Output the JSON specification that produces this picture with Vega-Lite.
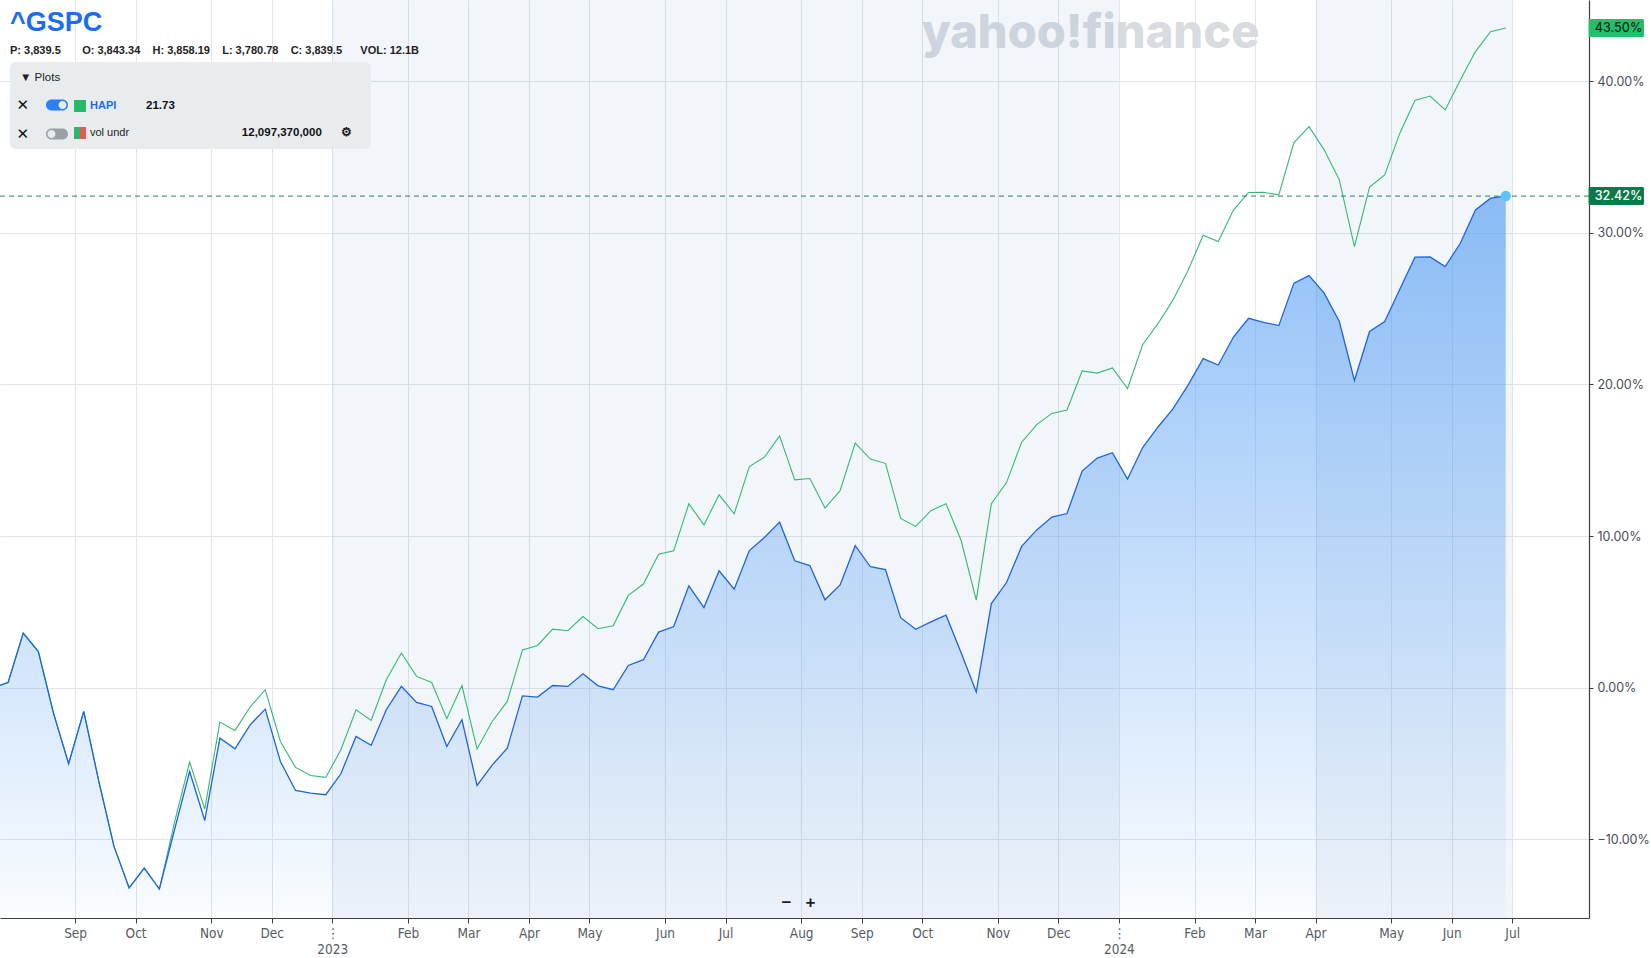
{
  "$schema": "https://vega.github.io/schema/vega-lite/v6.json",
  "width": 1589,
  "height": 918,
  "autosize": {"type": "none"},
  "padding": {"left": 0, "top": 0, "right": 62, "bottom": 40},
  "background": "#ffffff",
  "config": {"view": {"stroke": null}, "font": "Liberation Sans"},
  "title": {
    "text": "^GSPC",
    "subtitle": "P: 3,839.5\u00a0\u00a0\u00a0\u00a0\u00a0\u00a0\u00a0O: 3,843.34\u00a0\u00a0\u00a0\u00a0H: 3,858.19\u00a0\u00a0\u00a0\u00a0L: 3,780.78\u00a0\u00a0\u00a0\u00a0C: 3,839.5\u00a0\u00a0\u00a0\u00a0\u00a0\u00a0VOL: 12.1B",
    "anchor": "start",
    "frame": "group",
    "orient": "top",
    "offset": -57,
    "dx": 10,
    "font": "Liberation Sans",
    "fontSize": 27,
    "fontWeight": "bold",
    "color": "#1b6cf2",
    "subtitleFont": "Liberation Sans",
    "subtitleFontSize": 11,
    "subtitleFontWeight": "bold",
    "subtitleColor": "#222222",
    "subtitlePadding": 8
  },
  "datasets": {
    "shade": [
      {"start": "2023-01-02", "end": "2024-01-01"},
      {"start": "2024-04-01", "end": "2024-07-01"}
    ],
    "last": [
      {"series": "^GSPC", "date": "2024-06-28", "value": 32.42, "label": "32.42%"},
      {"series": "HAPI", "date": "2024-06-28", "value": 43.5, "label": "43.50%"}
    ],
    "prices": [
      {"date": "2022-07-29", "gspc": 0.0, "hapi": 0.0},
      {"date": "2022-08-05", "gspc": 0.35, "hapi": 0.35},
      {"date": "2022-08-12", "gspc": 3.6, "hapi": 3.6},
      {"date": "2022-08-19", "gspc": 2.39, "hapi": 2.39},
      {"date": "2022-08-26", "gspc": -1.67, "hapi": -1.67},
      {"date": "2022-09-02", "gspc": -5.01, "hapi": -5.01},
      {"date": "2022-09-09", "gspc": -1.56, "hapi": -1.56},
      {"date": "2022-09-16", "gspc": -6.18, "hapi": -6.18},
      {"date": "2022-09-23", "gspc": -10.46, "hapi": -10.46},
      {"date": "2022-09-30", "gspc": -13.2, "hapi": -13.2},
      {"date": "2022-10-07", "gspc": -11.89, "hapi": -11.89},
      {"date": "2022-10-14", "gspc": -13.27, "hapi": -13.27},
      {"date": "2022-10-21", "gspc": -9.36, "hapi": -8.88},
      {"date": "2022-10-28", "gspc": -5.52, "hapi": -4.9},
      {"date": "2022-11-04", "gspc": -8.75, "hapi": -8.0},
      {"date": "2022-11-11", "gspc": -3.32, "hapi": -2.26},
      {"date": "2022-11-18", "gspc": -4.02, "hapi": -2.81},
      {"date": "2022-11-25", "gspc": -2.44, "hapi": -1.27},
      {"date": "2022-12-02", "gspc": -1.41, "hapi": -0.13},
      {"date": "2022-12-09", "gspc": -4.86, "hapi": -3.54},
      {"date": "2022-12-16", "gspc": -6.77, "hapi": -5.25},
      {"date": "2022-12-23", "gspc": -6.94, "hapi": -5.78},
      {"date": "2022-12-30", "gspc": -7.05, "hapi": -5.91},
      {"date": "2023-01-06", "gspc": -5.67, "hapi": -4.09},
      {"date": "2023-01-13", "gspc": -3.21, "hapi": -1.45},
      {"date": "2023-01-20", "gspc": -3.8, "hapi": -2.15},
      {"date": "2023-01-27", "gspc": -1.45, "hapi": 0.53},
      {"date": "2023-02-03", "gspc": 0.09, "hapi": 2.29},
      {"date": "2023-02-10", "gspc": -0.97, "hapi": 0.75},
      {"date": "2023-02-17", "gspc": -1.23, "hapi": 0.35},
      {"date": "2023-02-24", "gspc": -3.87, "hapi": -2.04},
      {"date": "2023-03-03", "gspc": -2.11, "hapi": 0.15},
      {"date": "2023-03-10", "gspc": -6.44, "hapi": -4.04},
      {"date": "2023-03-17", "gspc": -5.1, "hapi": -2.22},
      {"date": "2023-03-24", "gspc": -3.98, "hapi": -0.9},
      {"date": "2023-03-31", "gspc": -0.53, "hapi": 2.5},
      {"date": "2023-04-07", "gspc": -0.61, "hapi": 2.79},
      {"date": "2023-04-14", "gspc": 0.15, "hapi": 3.87},
      {"date": "2023-04-21", "gspc": 0.09, "hapi": 3.76},
      {"date": "2023-04-28", "gspc": 0.92, "hapi": 4.7},
      {"date": "2023-05-05", "gspc": 0.13, "hapi": 3.89},
      {"date": "2023-05-12", "gspc": -0.13, "hapi": 4.09},
      {"date": "2023-05-19", "gspc": 1.47, "hapi": 6.09},
      {"date": "2023-05-26", "gspc": 1.85, "hapi": 6.84},
      {"date": "2023-06-02", "gspc": 3.67, "hapi": 8.81},
      {"date": "2023-06-09", "gspc": 4.04, "hapi": 9.03},
      {"date": "2023-06-16", "gspc": 6.72, "hapi": 12.13},
      {"date": "2023-06-23", "gspc": 5.29, "hapi": 10.74},
      {"date": "2023-06-30", "gspc": 7.71, "hapi": 12.72},
      {"date": "2023-07-07", "gspc": 6.5, "hapi": 11.47},
      {"date": "2023-07-14", "gspc": 9.05, "hapi": 14.59},
      {"date": "2023-07-21", "gspc": 9.91, "hapi": 15.21},
      {"date": "2023-07-28", "gspc": 10.92, "hapi": 16.61},
      {"date": "2023-08-04", "gspc": 8.37, "hapi": 13.71},
      {"date": "2023-08-11", "gspc": 8.06, "hapi": 13.8},
      {"date": "2023-08-18", "gspc": 5.8, "hapi": 11.85},
      {"date": "2023-08-25", "gspc": 6.78, "hapi": 13.0},
      {"date": "2023-09-01", "gspc": 9.37, "hapi": 16.14},
      {"date": "2023-09-08", "gspc": 7.98, "hapi": 15.08},
      {"date": "2023-09-15", "gspc": 7.79, "hapi": 14.8},
      {"date": "2023-09-22", "gspc": 4.62, "hapi": 11.17},
      {"date": "2023-09-29", "gspc": 3.86, "hapi": 10.64},
      {"date": "2023-10-06", "gspc": 4.35, "hapi": 11.68},
      {"date": "2023-10-13", "gspc": 4.79, "hapi": 12.14},
      {"date": "2023-10-20", "gspc": 2.31, "hapi": 9.71},
      {"date": "2023-10-27", "gspc": -0.28, "hapi": 5.78},
      {"date": "2023-11-03", "gspc": 5.55, "hapi": 12.14},
      {"date": "2023-11-10", "gspc": 6.94, "hapi": 13.53},
      {"date": "2023-11-17", "gspc": 9.32, "hapi": 16.19},
      {"date": "2023-11-24", "gspc": 10.41, "hapi": 17.35},
      {"date": "2023-12-01", "gspc": 11.26, "hapi": 18.09},
      {"date": "2023-12-08", "gspc": 11.49, "hapi": 18.32},
      {"date": "2023-12-15", "gspc": 14.29, "hapi": 20.89},
      {"date": "2023-12-22", "gspc": 15.15, "hapi": 20.75},
      {"date": "2023-12-29", "gspc": 15.5, "hapi": 21.09},
      {"date": "2024-01-05", "gspc": 13.76, "hapi": 19.73},
      {"date": "2024-01-12", "gspc": 15.84, "hapi": 22.62},
      {"date": "2024-01-19", "gspc": 17.18, "hapi": 23.99},
      {"date": "2024-01-26", "gspc": 18.39, "hapi": 25.56},
      {"date": "2024-02-02", "gspc": 19.96, "hapi": 27.52},
      {"date": "2024-02-09", "gspc": 21.7, "hapi": 29.84},
      {"date": "2024-02-16", "gspc": 21.28, "hapi": 29.42},
      {"date": "2024-02-23", "gspc": 23.13, "hapi": 31.5},
      {"date": "2024-03-01", "gspc": 24.36, "hapi": 32.66},
      {"date": "2024-03-08", "gspc": 24.1, "hapi": 32.67},
      {"date": "2024-03-15", "gspc": 23.88, "hapi": 32.5},
      {"date": "2024-03-22", "gspc": 26.68, "hapi": 35.95},
      {"date": "2024-03-29", "gspc": 27.18, "hapi": 37.0},
      {"date": "2024-04-05", "gspc": 26.02, "hapi": 35.47},
      {"date": "2024-04-12", "gspc": 24.15, "hapi": 33.49},
      {"date": "2024-04-19", "gspc": 20.26, "hapi": 29.09},
      {"date": "2024-04-26", "gspc": 23.49, "hapi": 33.01},
      {"date": "2024-05-03", "gspc": 24.15, "hapi": 33.82},
      {"date": "2024-05-10", "gspc": 26.28, "hapi": 36.57},
      {"date": "2024-05-17", "gspc": 28.39, "hapi": 38.72},
      {"date": "2024-05-24", "gspc": 28.41, "hapi": 39.02},
      {"date": "2024-05-31", "gspc": 27.77, "hapi": 38.1},
      {"date": "2024-06-07", "gspc": 29.31, "hapi": 40.08},
      {"date": "2024-06-14", "gspc": 31.51, "hapi": 41.95},
      {"date": "2024-06-21", "gspc": 32.28, "hapi": 43.26},
      {"date": "2024-06-28", "gspc": 32.42, "hapi": 43.5}
    ]
  },
  "layer": [
    {
      "data": {"name": "shade"},
      "mark": {"type": "rect", "color": "#4f74a8", "opacity": 0.075},
      "encoding": {
        "x": {
          "field": "start",
          "type": "temporal",
          "scale": {
            "type": "utc",
            "domain": [
              {"year": 2022, "month": 8, "date": 1, "hours": 6, "utc": true},
              {"year": 2024, "month": 8, "date": 5, "hours": 13, "utc": true}
            ],
            "nice": false
          },
          "axis": {
            "values": [
              {"year": 2022, "month": 9, "date": 5, "utc": true},
              {"year": 2022, "month": 10, "date": 3, "utc": true},
              {"year": 2022, "month": 11, "date": 7, "utc": true},
              {"year": 2022, "month": 12, "date": 5, "utc": true},
              {"year": 2023, "month": 1, "date": 2, "utc": true},
              {"year": 2023, "month": 2, "date": 6, "utc": true},
              {"year": 2023, "month": 3, "date": 6, "utc": true},
              {"year": 2023, "month": 4, "date": 3, "utc": true},
              {"year": 2023, "month": 5, "date": 1, "utc": true},
              {"year": 2023, "month": 6, "date": 5, "utc": true},
              {"year": 2023, "month": 7, "date": 3, "utc": true},
              {"year": 2023, "month": 8, "date": 7, "utc": true},
              {"year": 2023, "month": 9, "date": 4, "utc": true},
              {"year": 2023, "month": 10, "date": 2, "utc": true},
              {"year": 2023, "month": 11, "date": 6, "utc": true},
              {"year": 2023, "month": 12, "date": 4, "utc": true},
              {"year": 2024, "month": 1, "date": 1, "utc": true},
              {"year": 2024, "month": 2, "date": 5, "utc": true},
              {"year": 2024, "month": 3, "date": 4, "utc": true},
              {"year": 2024, "month": 4, "date": 1, "utc": true},
              {"year": 2024, "month": 5, "date": 6, "utc": true},
              {"year": 2024, "month": 6, "date": 3, "utc": true},
              {"year": 2024, "month": 7, "date": 1, "utc": true}
            ],
            "labelExpr": "utcmonth(datum.value) === 0 ? ['\u22ee', utcFormat(datum.value, '%Y')] : utcFormat(datum.value, '%b')",
            "labelFont": "'Liberation Sans Narrow', 'DejaVu Sans Condensed', sans-serif",
            "labelFontSize": 13.5,
            "labelColor": "#555c64",
            "labelPadding": 3,
            "labelLineHeight": 16,
            "labelBaseline": "top",
            "labelOverlap": false,
            "labelFlush": false,
            "tickSize": 5,
            "tickColor": "#3a3f44",
            "domainColor": "#3a3f44",
            "domainWidth": 1.2,
            "grid": true,
            "gridColor": "#e2e5e9",
            "title": "\u2212\u00a0\u00a0\u00a0+",
            "titleX": 798,
            "titleY": -16,
            "titleFont": "Liberation Sans",
            "titleFontSize": 17,
            "titleFontWeight": "bold",
            "titleColor": "#111111",
            "titleAlign": "center",
            "titleBaseline": "middle"
          }
        },
        "x2": {"field": "end"}
      }
    },
    {
      "data": {"name": "prices"},
      "mark": {
        "type": "area",
        "clip": true,
        "color": {
          "gradient": "linear",
          "x1": 0, "y1": 0, "x2": 0, "y2": 1,
          "stops": [
            {"offset": 0, "color": "rgba(88,160,245,0.68)"},
            {"offset": 1, "color": "rgba(88,160,245,0.03)"}
          ]
        }
      },
      "encoding": {
        "x": {"field": "date", "type": "temporal"},
        "y": {
          "field": "gspc",
          "type": "quantitative",
          "scale": {"domain": [-15.18, 45.35], "nice": false, "zero": false},
          "axis": {
            "orient": "right",
            "values": [-10, 0, 10, 20, 30, 40],
            "labelExpr": "format(datum.value, '.2f') + '%'",
            "labelFont": "Inter",
            "labelFontSize": 12.5,
            "labelColor": "#474d55",
            "labelPadding": 4,
            "tickSize": 4,
            "tickColor": "#3a3f44",
            "domainColor": "#3a3f44",
            "domainWidth": 1.2,
            "grid": true,
            "gridColor": "#e2e5e9",
            "labelOverlap": false,
            "title": "yahoo!finance",
            "titleX": -499,
            "titleY": 33,
            "titleAngle": 0,
            "titleAlign": "center",
            "titleBaseline": "middle",
            "titleFont": "Inter",
            "titleFontSize": 47,
            "titleFontWeight": 800,
            "titleColor": "#d8dce1"
          }
        },
        "y2": {"datum": -15.18}
      }
    },
    {
      "data": {"name": "prices"},
      "mark": {"type": "line", "clip": true, "strokeWidth": 1.1},
      "encoding": {
        "x": {"field": "date", "type": "temporal"},
        "y": {"field": "hapi", "type": "quantitative"},
        "color": {
          "datum": "HAPI",
          "scale": {"domain": ["HAPI", "vol undr"], "range": ["#35b877", "#e85a4f"]},
          "legend": {
            "orient": "none",
            "legendX": 10,
            "legendY": 100,
            "zindex": 1,
            "title": null,
            "padding": 0,
            "symbolType": "square",
            "symbolSize": 144,
            "symbolOffset": 64,
            "symbolStrokeWidth": 0,
            "labelFont": "Liberation Sans",
            "labelFontSize": 11,
            "labelOffset": 4,
            "labelLimit": 500,
            "rowPadding": 15,
            "encode": {
              "symbols": {
                "update": {
                  "fill": [
                    {"test": "datum.label === 'vol undr'", "value": {"gradient": "linear", "x1": 0, "y1": 0, "x2": 1, "y2": 0, "stops": [{"offset": 0, "color": "#2fb36e"}, {"offset": 0.5, "color": "#2fb36e"}, {"offset": 0.5, "color": "#e85a4f"}, {"offset": 1, "color": "#e85a4f"}]}},
                    {"value": "#27b86c"}
                  ],
                  "stroke": {"value": "transparent"},
                  "opacity": {"value": 1}
                }
              },
              "labels": {
                "update": {
                  "fill": [{"test": "datum.label === 'HAPI'", "value": "#1b6cf2"}, {"value": "#1d1d1d"}],
                  "fontWeight": [{"test": "datum.label === 'HAPI'", "value": "bold"}, {"value": "normal"}]
                }
              }
            }
          }
        }
      }
    },
    {
      "data": {"name": "prices"},
      "mark": {"type": "line", "clip": true, "strokeWidth": 1.3, "color": "#1f66d5"},
      "encoding": {
        "x": {"field": "date", "type": "temporal"},
        "y": {"field": "gspc", "type": "quantitative"}
      }
    },
    {
      "data": {"name": "last"},
      "transform": [{"filter": "datum.series === '^GSPC'"}],
      "mark": {"type": "rule", "color": "#2e7d6e", "strokeWidth": 1, "strokeDash": [5, 4]},
      "encoding": {
        "y": {"field": "value", "type": "quantitative"}
      }
    },
    {
      "data": {"name": "last"},
      "transform": [{"filter": "datum.series === '^GSPC'"}],
      "mark": {"type": "point", "filled": true, "size": 110, "color": "#5ec4fb", "opacity": 1, "strokeWidth": 0},
      "encoding": {
        "x": {"field": "date", "type": "temporal"},
        "y": {"field": "value", "type": "quantitative"}
      }
    },
    {
      "data": {"name": "last"},
      "mark": {
        "type": "point",
        "filled": true,
        "opacity": 1,
        "strokeWidth": 0,
        "size": 19600,
        "shape": "M1.204,-0.1286L1.955,-0.1286Q1.975,-0.1286,1.975,-0.1086L1.975,0.1086Q1.975,0.1286,1.955,0.1286L1.204,0.1286Q1.184,0.1286,1.184,0.1086L1.184,-0.1086Q1.184,-0.1286,1.204,-0.1286Z"
      },
      "encoding": {
        "x": {"field": "date", "type": "temporal"},
        "y": {"field": "value", "type": "quantitative"},
        "color": {"condition": {"test": "datum.series === 'HAPI'", "value": "#22c06a"}, "value": "#0b7a4b"}
      }
    },
    {
      "data": {"name": "last"},
      "mark": {"type": "text", "align": "left", "baseline": "middle", "dx": 89, "font": "Inter", "fontSize": 12.5, "fontWeight": 500},
      "encoding": {
        "x": {"field": "date", "type": "temporal"},
        "y": {"field": "value", "type": "quantitative"},
        "text": {"field": "label"},
        "color": {"condition": {"test": "datum.series === 'HAPI'", "value": "#0d2b1b"}, "value": "#ffffff"}
      }
    },
    {
      "data": {"name": "last"},
      "mark": {"type": "point", "opacity": 0, "filled": true},
      "encoding": {
        "x": {"field": "date", "type": "temporal"},
        "y": {"field": "value", "type": "quantitative"},
        "fill": {
          "datum": "on",
          "scale": {"domain": ["on", "off"], "range": ["#2f7ff0", "#9ca1a7"]}
        },
        "shape": {
          "datum": "on",
          "scale": {
            "domain": ["on", "off"],
            "range": [
              "M-0.5,-0.5L0.5,-0.5A0.5,0.5,0,0,1,0.5,0.5L-0.5,0.5A0.5,0.5,0,0,1,-0.5,-0.5ZM0.86,0A0.36,0.36,0,0,0,0.14,0A0.36,0.36,0,0,0,0.86,0Z",
              "M-0.5,-0.5L0.5,-0.5A0.5,0.5,0,0,1,0.5,0.5L-0.5,0.5A0.5,0.5,0,0,1,-0.5,-0.5ZM-0.14,0A0.36,0.36,0,0,0,-0.86,0A0.36,0.36,0,0,0,-0.14,0Z"
            ]
          },
          "legend": {
            "orient": "none",
            "legendX": 10,
            "legendY": 94,
            "zindex": 1,
            "title": null,
            "padding": 0,
            "symbolSize": 484,
            "symbolOffset": 36,
            "symbolStrokeWidth": 0,
            "symbolOpacity": 1,
            "rowPadding": 10,
            "labelAlign": "right",
            "labelOffset": -39,
            "labelFont": "DejaVu Sans",
            "labelFontSize": 15,
            "labelFontWeight": "bold",
            "labelColor": "#111111",
            "labelExpr": "'\u2715'",
            "encode": {
              "symbols": {
                "update": {
                  "stroke": {"value": "transparent"},
                  "opacity": {"value": 1}
                }
              }
            }
          }
        }
      }
    },
    {
      "data": {"name": "last"},
      "mark": {"type": "point", "opacity": 0},
      "encoding": {
        "x": {"field": "date", "type": "temporal"},
        "y": {"field": "value", "type": "quantitative"},
        "stroke": {
          "datum": "21.73",
          "scale": {"domain": ["21.73", "12,097,370,000"], "range": ["rgba(0,0,0,0)", "rgba(0,0,0,0)"]},
          "legend": {
            "orient": "none",
            "legendX": 10,
            "legendY": 62,
            "zindex": 0,
            "title": "\u25bc Plots",
            "titleFont": "Liberation Sans",
            "titleFontSize": 11.5,
            "titleFontWeight": "normal",
            "titleColor": "#222222",
            "titlePadding": 16,
            "fillColor": "#e8ecef",
            "cornerRadius": 6,
            "padding": 10,
            "symbolType": "square",
            "symbolSize": 144,
            "symbolOffset": 0,
            "symbolStrokeWidth": 0,
            "symbolFillColor": "rgba(0,0,0,0)",
            "rowPadding": 15,
            "labelOffset": 114,
            "labelLimit": 500,
            "labelFont": "Liberation Sans",
            "labelFontSize": 11.5,
            "labelFontWeight": "bold",
            "labelColor": "#111111",
            "labelExpr": "datum.label === '21.73' ? '21.73' : '\u200b\u00a0\u00a0\u00a0\u00a0\u00a0\u00a0\u00a0\u00a0\u00a0\u00a0\u00a0\u00a0\u00a0\u00a0\u00a0\u00a0\u00a0\u00a0\u00a0\u00a0\u00a0\u00a0\u00a0\u00a0\u00a0\u00a0\u00a0\u00a0\u00a0\u00a012,097,370,000\u00a0\u00a0\u00a0\u00a0\u00a0\u00a0\u2699\u2800'",
            "encode": {
              "symbols": {
                "update": {
                  "opacity": {"value": 0}
                }
              }
            }
          }
        }
      }
    }
  ]
}
